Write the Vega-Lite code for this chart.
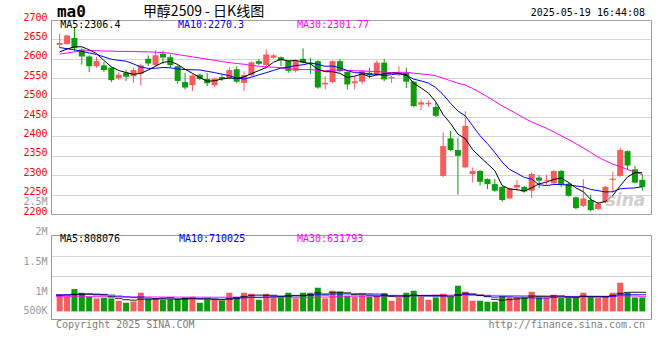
{
"$schema": "https://vega.github.io/schema/vega-lite/v6.json",
"padding": {"left": 22, "top": 3, "right": 4, "bottom": 5},
"background": "white",
"spacing": 21,
"bounds": "flush",
"config": {
  "view": {"stroke": "#999999", "strokeWidth": 1}
},
"datasets": {"k": [
{"d":"2025-01-14","o":2636,"h":2665,"l":2628,"c":2641,"v":666000,"m5":2618,"m10":2629,"m30":2612,"vm5":680000,"vm10":710000,"vm30":630000},
{"d":"2025-01-15","o":2638,"h":2663,"l":2636,"c":2660,"v":623000,"m5":2625,"m10":2626,"m30":2615,"vm5":690000,"vm10":712000,"vm30":628000},
{"d":"2025-01-16","o":2654,"h":2680,"l":2620,"c":2627,"v":949000,"m5":2631,"m10":2623,"m30":2618,"vm5":720000,"vm10":720000,"vm30":632000},
{"d":"2025-01-17","o":2624,"h":2627,"l":2585,"c":2606,"v":793000,"m5":2631,"m10":2619,"m30":2620,"vm5":720000,"vm10":735000,"vm30":635000},
{"d":"2025-01-20","o":2606,"h":2609,"l":2566,"c":2581,"v":623000,"m5":2623.0,"m10":2615,"m30":2621,"vm5":731000,"vm10":740000,"vm30":634000},
{"d":"2025-01-21","o":2581,"h":2605,"l":2577,"c":2594,"v":552000,"m5":2613.6,"m10":2611,"m30":2621,"vm5":708000,"vm10":735000,"vm30":632000},
{"d":"2025-01-22","o":2583,"h":2592,"l":2566,"c":2571,"v":581000,"m5":2595.8,"m10":2605,"m30":2620,"vm5":700000,"vm10":720000,"vm30":630000},
{"d":"2025-01-23","o":2577,"h":2579,"l":2540,"c":2545,"v":552000,"m5":2579.4,"m10":2599,"m30":2620,"vm5":620000,"vm10":690000,"vm30":627000},
{"d":"2025-01-24","o":2550,"h":2565,"l":2546,"c":2559,"v":453000,"m5":2570.0,"m10":2596,"m30":2619,"vm5":552000,"vm10":650000,"vm30":624000},
{"d":"2025-01-27","o":2564,"h":2572,"l":2543,"c":2554,"v":368000,"m5":2564.6,"m10":2593.8,"m30":2619,"vm5":501000,"vm10":616000,"vm30":620000},
{"d":"2025-02-05","o":2555,"h":2577,"l":2538,"c":2571,"v":425000,"m5":2560.0,"m10":2586.8,"m30":2619,"vm5":476000,"vm10":592000,"vm30":616000},
{"d":"2025-02-06","o":2562,"h":2588,"l":2531,"c":2583,"v":793000,"m5":2562.4,"m10":2579.1,"m30":2618,"vm5":518000,"vm10":609000,"vm30":615000},
{"d":"2025-02-07","o":2600,"h":2609,"l":2581,"c":2588,"v":510000,"m5":2571.0,"m10":2575.2,"m30":2618,"vm5":510000,"vm10":565000,"vm30":613000},
{"d":"2025-02-10","o":2584,"h":2622,"l":2580,"c":2609,"v":567000,"m5":2581.0,"m10":2575.5,"m30":2617,"vm5":533000,"vm10":542000,"vm30":612000},
{"d":"2025-02-11","o":2613,"h":2621,"l":2587,"c":2603,"v":496000,"m5":2590.8,"m10":2577.7,"m30":2616,"vm5":558000,"vm10":530000,"vm30":610000},
{"d":"2025-02-12","o":2604,"h":2611,"l":2577,"c":2584,"v":524000,"m5":2593.4,"m10":2576.7,"m30":2614,"vm5":578000,"vm10":527000,"vm30":609000},
{"d":"2025-02-13","o":2581,"h":2583,"l":2536,"c":2543,"v":524000,"m5":2585.4,"m10":2573.9,"m30":2611,"vm5":524000,"vm10":521000,"vm30":607000},
{"d":"2025-02-14","o":2540,"h":2564,"l":2521,"c":2526,"v":595000,"m5":2573.0,"m10":2572.0,"m30":2608,"vm5":541000,"vm10":526000,"vm30":606000},
{"d":"2025-02-17","o":2532,"h":2560,"l":2517,"c":2557,"v":623000,"m5":2562.6,"m10":2571.8,"m30":2605,"vm5":552000,"vm10":543000,"vm30":605000},
{"d":"2025-02-18","o":2559,"h":2562,"l":2545,"c":2548,"v":368000,"m5":2551.6,"m10":2571.2,"m30":2602,"vm5":527000,"vm10":543000,"vm30":603000},
{"d":"2025-02-19","o":2548,"h":2563,"l":2530,"c":2537,"v":510000,"m5":2542.2,"m10":2567.8,"m30":2599,"vm5":524000,"vm10":551000,"vm30":601000},
{"d":"2025-02-20","o":2532,"h":2551,"l":2527,"c":2549,"v":496000,"m5":2543.4,"m10":2564.4,"m30":2596,"vm5":518000,"vm10":521000,"vm30":600000},
{"d":"2025-02-21","o":2553,"h":2560,"l":2543,"c":2548,"v":453000,"m5":2547.8,"m10":2560.4,"m30":2593,"vm5":490000,"vm10":516000,"vm30":598000},
{"d":"2025-02-24","o":2550,"h":2578,"l":2547,"c":2571,"v":793000,"m5":2550.6,"m10":2556.6,"m30":2590,"vm5":524000,"vm10":538000,"vm30":597000},
{"d":"2025-02-25","o":2573,"h":2581,"l":2538,"c":2541,"v":623000,"m5":2549.2,"m10":2550.4,"m30":2588,"vm5":575000,"vm10":551000,"vm30":598000},
{"d":"2025-02-26","o":2538,"h":2568,"l":2517,"c":2558,"v":793000,"m5":2553.4,"m10":2547.8,"m30":2586,"vm5":632000,"vm10":578000,"vm30":599000},
{"d":"2025-02-27","o":2557,"h":2593,"l":2555,"c":2591,"v":751000,"m5":2561.8,"m10":2552.6,"m30":2583,"vm5":683000,"vm10":601000,"vm30":600000},
{"d":"2025-02-28","o":2594,"h":2600,"l":2584,"c":2587,"v":496000,"m5":2569.6,"m10":2558.7,"m30":2581,"vm5":691000,"vm10":591000,"vm30":598000},
{"d":"2025-03-03","o":2584,"h":2624,"l":2582,"c":2611,"v":751000,"m5":2577.6,"m10":2564.1,"m30":2579,"vm5":683000,"vm10":603000,"vm30":597000},
{"d":"2025-03-04","o":2603,"h":2612,"l":2600,"c":2609,"v":623000,"m5":2591.2,"m10":2570.2,"m30":2578.4,"vm5":683000,"vm10":629000,"vm30":596000},
{"d":"2025-03-05","o":2604,"h":2606,"l":2581,"c":2596,"v":595000,"m5":2598.8,"m10":2576.1,"m30":2576.9,"vm5":643000,"vm10":637000,"vm30":593000},
{"d":"2025-03-06","o":2594,"h":2597,"l":2564,"c":2569,"v":793000,"m5":2594.4,"m10":2578.1,"m30":2573.9,"vm5":652000,"vm10":667000,"vm30":599000},
{"d":"2025-03-07","o":2569,"h":2598,"l":2565,"c":2594,"v":552000,"m5":2595.8,"m10":2582.7,"m30":2572.8,"vm5":663000,"vm10":677000,"vm30":586000},
{"d":"2025-03-10","o":2600,"h":2627,"l":2588,"c":2590,"v":793000,"m5":2591.6,"m10":2584.6,"m30":2572.2,"vm5":671000,"vm10":677000,"vm30":586000},
{"d":"2025-03-11","o":2590,"h":2602,"l":2561,"c":2586,"v":793000,"m5":2587.0,"m10":2589.1,"m30":2572.4,"vm5":705000,"vm10":694000,"vm30":592000},
{"d":"2025-03-12","o":2594,"h":2596,"l":2523,"c":2526,"v":1006000,"m5":2573.0,"m10":2585.9,"m30":2570.1,"vm5":787000,"vm10":715000,"vm30":607000},
{"d":"2025-03-13","o":2534,"h":2555,"l":2521,"c":2538,"v":552000,"m5":2566.8,"m10":2580.6,"m30":2569.0,"vm5":739000,"vm10":695000,"vm30":606000},
{"d":"2025-03-14","o":2540,"h":2596,"l":2537,"c":2594,"v":878000,"m5":2566.8,"m10":2581.3,"m30":2570.7,"vm5":804000,"vm10":734000,"vm30":617000},
{"d":"2025-03-17","o":2594,"h":2600,"l":2565,"c":2568,"v":836000,"m5":2562.4,"m10":2577.0,"m30":2571.0,"vm5":813000,"vm10":742000,"vm30":629000},
{"d":"2025-03-18","o":2566,"h":2568,"l":2521,"c":2534,"v":666000,"m5":2552.0,"m10":2569.5,"m30":2570.3,"vm5":788000,"vm10":746000,"vm30":639000},
{"d":"2025-03-19","o":2537,"h":2555,"l":2521,"c":2542,"v":623000,"m5":2555.2,"m10":2564.1,"m30":2569.3,"vm5":711000,"vm10":749000,"vm30":646000},
{"d":"2025-03-20","o":2541,"h":2570,"l":2535,"c":2568,"v":694000,"m5":2561.2,"m10":2564.0,"m30":2568.8,"vm5":739000,"vm10":739000,"vm30":643000},
{"d":"2025-03-21","o":2564,"h":2577,"l":2551,"c":2558,"v":623000,"m5":2554.0,"m10":2560.4,"m30":2567.8,"vm5":688000,"vm10":746000,"vm30":646000},
{"d":"2025-03-24","o":2558,"h":2596,"l":2556,"c":2590,"v":666000,"m5":2558.4,"m10":2560.4,"m30":2567.2,"vm5":654000,"vm10":734000,"vm30":650000},
{"d":"2025-03-25","o":2590,"h":2600,"l":2542,"c":2547,"v":765000,"m5":2561.0,"m10":2556.5,"m30":2565.3,"vm5":674000,"vm10":731000,"vm30":659000},
{"d":"2025-03-26","o":2550,"h":2556,"l":2538,"c":2553,"v":453000,"m5":2563.2,"m10":2559.2,"m30":2564.3,"vm5":640000,"vm10":676000,"vm30":656000},
{"d":"2025-03-27","o":2558,"h":2581,"l":2555,"c":2565,"v":567000,"m5":2562.6,"m10":2561.9,"m30":2565.0,"vm5":615000,"vm10":677000,"vm30":658000},
{"d":"2025-03-28","o":2564,"h":2577,"l":2525,"c":2541,"v":793000,"m5":2559.2,"m10":2556.6,"m30":2565.5,"vm5":649000,"vm10":669000,"vm30":664000},
{"d":"2025-03-31","o":2541,"h":2543,"l":2475,"c":2478,"v":878000,"m5":2536.8,"m10":2547.6,"m30":2562.9,"vm5":691000,"vm10":673000,"vm30":673000},
{"d":"2025-04-01","o":2482,"h":2495,"l":2468,"c":2488,"v":623000,"m5":2525.0,"m10":2543.0,"m30":2560.9,"vm5":663000,"vm10":669000,"vm30":681000},
{"d":"2025-04-02","o":2483,"h":2492,"l":2476,"c":2486,"v":496000,"m5":2511.6,"m10":2537.4,"m30":2559.2,"vm5":671000,"vm10":656000,"vm30":681000},
{"d":"2025-04-03","o":2476,"h":2487,"l":2450,"c":2453,"v":595000,"m5":2489.2,"m10":2525.9,"m30":2556.0,"vm5":677000,"vm10":646000,"vm30":684000},
{"d":"2025-04-07","o":2298,"h":2410,"l":2295,"c":2375,"v":751000,"m5":2456.0,"m10":2507.6,"m30":2550.2,"vm5":669000,"vm10":659000,"vm30":694000},
{"d":"2025-04-08","o":2395,"h":2414,"l":2362,"c":2365,"v":581000,"m5":2433.4,"m10":2485.1,"m30":2543.4,"vm5":609000,"vm10":650000,"vm30":687000},
{"d":"2025-04-09","o":2365,"h":2397,"l":2250,"c":2350,"v":1091000,"m5":2405.8,"m10":2465.4,"m30":2537.0,"vm5":703000,"vm10":683000,"vm30":703000},
{"d":"2025-04-10","o":2320,"h":2465,"l":2318,"c":2427,"v":836000,"m5":2394.0,"m10":2452.8,"m30":2532.6,"vm5":771000,"vm10":721000,"vm30":704000},
{"d":"2025-04-11","o":2303,"h":2320,"l":2281,"c":2311,"v":453000,"m5":2365.6,"m10":2427.4,"m30":2523.3,"vm5":742000,"vm10":710000,"vm30":694000},
{"d":"2025-04-14","o":2311,"h":2313,"l":2273,"c":2283,"v":453000,"m5":2347.2,"m10":2401.6,"m30":2513.2,"vm5":683000,"vm10":676000,"vm30":693000},
{"d":"2025-04-15","o":2290,"h":2292,"l":2264,"c":2277,"v":411000,"m5":2329.6,"m10":2381.5,"m30":2502.0,"vm5":649000,"vm10":629000,"vm30":681000},
{"d":"2025-04-16","o":2277,"h":2290,"l":2257,"c":2260,"v":411000,"m5":2311.6,"m10":2358.7,"m30":2490.4,"vm5":513000,"vm10":608000,"vm30":674000},
{"d":"2025-04-17","o":2270,"h":2272,"l":2232,"c":2236,"v":652000,"m5":2273.4,"m10":2333.7,"m30":2478.4,"vm5":476000,"vm10":623000,"vm30":676000},
{"d":"2025-04-18","o":2240,"h":2268,"l":2238,"c":2266,"v":595000,"m5":2264.4,"m10":2315.0,"m30":2468.3,"vm5":504000,"vm10":623000,"vm30":670000},
{"d":"2025-04-21","o":2268,"h":2288,"l":2260,"c":2275,"v":595000,"m5":2262.8,"m10":2305.0,"m30":2457.7,"vm5":533000,"vm10":608000,"vm30":671000},
{"d":"2025-04-22","o":2270,"h":2272,"l":2255,"c":2258,"v":567000,"m5":2259.0,"m10":2294.3,"m30":2446.6,"vm5":564000,"vm10":606000,"vm30":663000},
{"d":"2025-04-23","o":2260,"h":2307,"l":2241,"c":2303,"v":836000,"m5":2267.6,"m10":2289.6,"m30":2437.2,"vm5":649000,"vm10":581000,"vm30":665000},
{"d":"2025-04-24","o":2294,"h":2300,"l":2267,"c":2286,"v":595000,"m5":2277.6,"m10":2275.5,"m30":2429.2,"vm5":638000,"vm10":557000,"vm30":651000},
{"d":"2025-04-25","o":2286,"h":2301,"l":2275,"c":2288,"v":567000,"m5":2282.0,"m10":2273.2,"m30":2420.8,"vm5":632000,"vm10":568000,"vm30":652000},
{"d":"2025-04-28","o":2279,"h":2313,"l":2277,"c":2311,"v":708000,"m5":2289.2,"m10":2276.0,"m30":2411.4,"vm5":655000,"vm10":594000,"vm30":646000},
{"d":"2025-04-29","o":2311,"h":2313,"l":2270,"c":2275,"v":567000,"m5":2292.6,"m10":2275.8,"m30":2401.6,"vm5":655000,"vm10":609000,"vm30":637000},
{"d":"2025-04-30","o":2278,"h":2281,"l":2245,"c":2247,"v":567000,"m5":2281.4,"m10":2274.5,"m30":2392.1,"vm5":601000,"vm10":625000,"vm30":634000},
{"d":"2025-05-06","o":2243,"h":2245,"l":2212,"c":2215,"v":567000,"m5":2267.2,"m10":2272.4,"m30":2381.2,"vm5":595000,"vm10":616000,"vm30":632000},
{"d":"2025-05-07","o":2221,"h":2290,"l":2218,"c":2240,"v":793000,"m5":2257.6,"m10":2269.8,"m30":2370.2,"vm5":640000,"vm10":636000,"vm30":635000},
{"d":"2025-05-08","o":2236,"h":2250,"l":2206,"c":2210,"v":595000,"m5":2237.4,"m10":2263.3,"m30":2358.6,"vm5":618000,"vm10":636000,"vm30":634000},
{"d":"2025-05-09","o":2213,"h":2230,"l":2210,"c":2227,"v":567000,"m5":2227.8,"m10":2260.2,"m30":2346.5,"vm5":618000,"vm10":636000,"vm30":631000},
{"d":"2025-05-12","o":2230,"h":2272,"l":2228,"c":2270,"v":652000,"m5":2232.4,"m10":2256.9,"m30":2337.3,"vm5":635000,"vm10":618000,"vm30":627000},
{"d":"2025-05-13","o":2288,"h":2309,"l":2255,"c":2291,"v":793000,"m5":2247.6,"m10":2257.4,"m30":2328.6,"vm5":680000,"vm10":638000,"vm30":639000},
{"d":"2025-05-14","o":2298,"h":2371,"l":2296,"c":2365,"v":1218000,"m5":2272.6,"m10":2265.1,"m30":2321.9,"vm5":765000,"vm10":703000,"vm30":660000},
{"d":"2025-05-15","o":2362,"h":2364,"l":2313,"c":2325,"v":793000,"m5":2295.6,"m10":2266.5,"m30":2314.7,"vm5":805000,"vm10":711000,"vm30":660000},
{"d":"2025-05-16","o":2315,"h":2324,"l":2279,"c":2281,"v":595000,"m5":2306.4,"m10":2267.1,"m30":2308.1,"vm5":810000,"vm10":714000,"vm30":651000},
{"d":"2025-05-19","o":2288,"h":2303,"l":2260,"c":2270,"v":595000,"m5":2306.4,"m10":2270.3,"m30":2301.77,"vm5":808076,"vm10":710025,"vm30":631793}
]},
"vconcat": [
{
  "width": 600, "height": 194,
  "data": {"name": "k"},
  "transform": [{"window": [{"op": "row_number", "as": "i"}]}],
  "resolve": {"axis": {"y": "independent"}},
  "encoding": {
    "x": {"field": "i", "type": "quantitative",
      "scale": {"domain": [0.5, 80.5], "nice": false, "zero": false},
      "axis": {"title": null, "values": [0.5, 9.6139, 18.7278, 28.8544, 38.981, 49.1076, 58.2215, 68.3481, 75.4367],
        "labelExpr": "datum.value < 1 ? '01-14' : datum.value < 10 ? '01-27' : datum.value < 19 ? '02-17' : datum.value < 29 ? '03-03' : datum.value < 39 ? '03-17' : datum.value < 50 ? '03-31' : datum.value < 59 ? '04-14' : datum.value < 69 ? '04-28' : '05-12'",
        "labelColor": "#0b77d3", "labelFont": "DejaVu Sans Mono", "labelFontSize": 10, "labelFlush": false, "labelOverlap": false, "labelPadding": 4,
        "ticks": false, "domainColor": "#999999", "grid": true, "gridColor": "#aaaaaa", "gridDash": [1, 1]}}
  },
  "layer": [
    {"mark": {"type": "rule", "strokeWidth": 1},
     "encoding": {
       "y": {"field": "l", "type": "quantitative", "scale": {"domain": [2200, 2700], "nice": false, "zero": false},
         "axis": {"title": null, "values": [2200, 2250, 2300, 2350, 2400, 2450, 2500, 2550, 2600, 2650, 2700], "format": "d",
           "labelColor": "#ff0000", "labelFont": "DejaVu Sans Mono", "labelFontSize": 10, "labelPadding": 4, "labelOffset": -3, "labelOverlap": false,
           "ticks": false, "domainColor": "#999999", "grid": true, "gridColor": "#aaaaaa", "gridDash": [1, 1]}},
       "y2": {"field": "h"},
       "color": {"condition": {"test": "datum.c >= datum.o", "value": "#f65c5c"}, "value": "#0c9c0c"}}},
    {"mark": {"type": "bar", "size": 6},
     "encoding": {
       "y": {"field": "o", "type": "quantitative", "scale": {"domain": [2200, 2700], "nice": false, "zero": false}, "axis": null},
       "y2": {"field": "c"},
       "color": {"condition": {"test": "datum.c >= datum.o", "value": "#f65c5c"}, "value": "#0c9c0c"}}},
    {"mark": {"type": "line", "strokeWidth": 1, "color": "#ff00ff"},
     "encoding": {"y": {"field": "m30", "type": "quantitative", "scale": {"domain": [2200, 2700], "nice": false, "zero": false}, "axis": null}}},
    {"mark": {"type": "line", "strokeWidth": 1, "color": "#0000ff"},
     "encoding": {"y": {"field": "m10", "type": "quantitative", "scale": {"domain": [2200, 2700], "nice": false, "zero": false}, "axis": null}}},
    {"mark": {"type": "line", "strokeWidth": 1, "color": "#000000"},
     "encoding": {"y": {"field": "m5", "type": "quantitative", "scale": {"domain": [2200, 2700], "nice": false, "zero": false}, "axis": null}}},
    {"transform": [{"filter": "datum.i == 1"}],
     "mark": {"type": "text", "align": "left", "baseline": "middle", "color": "#000000", "font": "DejaVu Sans Mono", "fontSize": 10},
     "encoding": {"x": {"datum": 1.07, "type": "quantitative", "axis": null}, "y": {"datum": 2687, "type": "quantitative", "scale": {"domain": [2200, 2700], "nice": false, "zero": false}, "axis": null}, "text": {"value": "MA5:2306.4"}}},
    {"transform": [{"filter": "datum.i == 1"}],
     "mark": {"type": "text", "align": "left", "baseline": "middle", "color": "#0000ff", "font": "DejaVu Sans Mono", "fontSize": 10},
     "encoding": {"x": {"datum": 17.03, "type": "quantitative", "axis": null}, "y": {"datum": 2687, "type": "quantitative", "scale": {"domain": [2200, 2700], "nice": false, "zero": false}, "axis": null}, "text": {"value": "MA10:2270.3"}}},
    {"transform": [{"filter": "datum.i == 1"}],
     "mark": {"type": "text", "align": "left", "baseline": "middle", "color": "#ff00ff", "font": "DejaVu Sans Mono", "fontSize": 10},
     "encoding": {"x": {"datum": 33.17, "type": "quantitative", "axis": null}, "y": {"datum": 2687, "type": "quantitative", "scale": {"domain": [2200, 2700], "nice": false, "zero": false}, "axis": null}, "text": {"value": "MA30:2301.77"}}},
    {"transform": [{"filter": "datum.i == 1"}],
     "mark": {"type": "text", "align": "center", "baseline": "middle", "color": "#000000", "font": "Noto Sans CJK SC", "fontSize": 14},
     "encoding": {"x": {"datum": 20.5, "type": "quantitative", "axis": null}, "y": {"datum": 2720.6, "type": "quantitative", "scale": {"domain": [2200, 2700], "nice": false, "zero": false}, "axis": null}, "text": {"value": "甲醇2509 - 日K线图"}}},
    {"transform": [{"filter": "datum.i == 1"}],
     "mark": {"type": "text", "align": "left", "baseline": "middle", "color": "#000000", "font": "DejaVu Sans Mono", "fontSize": 16, "fontWeight": "bold"},
     "encoding": {"x": {"datum": 0.63, "type": "quantitative", "axis": null}, "y": {"datum": 2721.9, "type": "quantitative", "scale": {"domain": [2200, 2700], "nice": false, "zero": false}, "axis": null}, "text": {"value": "ma0"}}},
    {"transform": [{"filter": "datum.i == 1"}],
     "mark": {"type": "text", "align": "right", "baseline": "middle", "color": "#000000", "font": "DejaVu Sans Mono", "fontSize": 10},
     "encoding": {"x": {"datum": 80.37, "type": "quantitative", "axis": null}, "y": {"datum": 2718.8, "type": "quantitative", "scale": {"domain": [2200, 2700], "nice": false, "zero": false}, "axis": null}, "text": {"value": "2025-05-19 16:44:08"}}},
    {"transform": [{"filter": "datum.i == 1"}],
     "mark": {"type": "text", "align": "right", "baseline": "middle", "color": "#c4c4c4", "font": "DejaVu Sans", "fontSize": 17, "fontStyle": "italic", "fontWeight": "bold", "opacity": 0.8},
     "encoding": {"x": {"datum": 80.4, "type": "quantitative", "axis": null}, "y": {"datum": 2233, "type": "quantitative", "scale": {"domain": [2200, 2700], "nice": false, "zero": false}, "axis": null}, "text": {"value": "sina"}}}
  ]
},
{
  "width": 600, "height": 84,
  "data": {"name": "k"},
  "transform": [{"window": [{"op": "row_number", "as": "i"}]}],
  "resolve": {"axis": {"y": "independent"}},
  "encoding": {
    "x": {"field": "i", "type": "quantitative",
      "scale": {"domain": [0.5, 80.5], "nice": false, "zero": false},
      "axis": {"title": null, "values": [0.5, 9.6139, 18.7278, 28.8544, 38.981, 49.1076, 58.2215, 68.3481, 75.4367], "labels": false,
        "ticks": false, "domainColor": "#999999", "grid": true, "gridColor": "#aaaaaa", "gridDash": [1, 1]}}
  },
  "layer": [
    {"mark": {"type": "bar", "size": 6},
     "encoding": {
       "y": {"field": "v", "type": "quantitative", "scale": {"domain": [-323000, 3247000], "nice": false, "zero": false},
         "axis": {"title": null, "values": [3240000, 3230000, 2367000, 2125000, 1517000, 850000, 29750],
           "labelExpr": "datum.value == 3240000 ? '2M' : datum.value == 3230000 ? '2.5M' : datum.value == 2125000 ? '1.5M' : datum.value == 850000 ? '1M' : datum.value == 29750 ? '500K' : ''",
           "labelColor": "#999999", "labelFont": "DejaVu Sans Mono", "labelFontSize": 10, "labelPadding": 4, "labelOverlap": false,
           "ticks": false, "domainColor": "#999999", "grid": true, "gridColor": "#aaaaaa", "gridDash": [1, 1],
           "gridOpacity": {"condition": {"test": "datum.value == 2367000 || datum.value == 1517000", "value": 1}, "value": 0},
           "labelOffset": {"condition": [{"test": "datum.value == 3240000", "value": -3.5}, {"test": "datum.value == 3230000", "value": -34.4}], "value": 0}}},
       "color": {"condition": {"test": "datum.c >= datum.o", "value": "#f65c5c"}, "value": "#0c9c0c"}}},
    {"mark": {"type": "tick", "orient": "horizontal", "size": 7.5, "thickness": 1.3, "color": "#ff00ff"},
     "encoding": {"y": {"field": "vm30", "type": "quantitative", "scale": {"domain": [-323000, 3247000], "nice": false, "zero": false}, "axis": null}}},
    {"mark": {"type": "tick", "orient": "horizontal", "size": 7.5, "thickness": 1.3, "color": "#0000ff"},
     "encoding": {"y": {"field": "vm10", "type": "quantitative", "scale": {"domain": [-323000, 3247000], "nice": false, "zero": false}, "axis": null}}},
    {"mark": {"type": "tick", "orient": "horizontal", "size": 7.5, "thickness": 1.3, "color": "#000000"},
     "encoding": {"y": {"field": "vm5", "type": "quantitative", "scale": {"domain": [-323000, 3247000], "nice": false, "zero": false}, "axis": null}}},
    {"transform": [{"filter": "datum.i == 1"}],
     "mark": {"type": "text", "align": "left", "baseline": "middle", "color": "#000000", "font": "DejaVu Sans Mono", "fontSize": 10},
     "encoding": {"x": {"datum": 1.03, "type": "quantitative", "axis": null}, "y": {"datum": 3064000, "type": "quantitative", "scale": {"domain": [-323000, 3247000], "nice": false, "zero": false}, "axis": null}, "text": {"value": "MA5:808076"}}},
    {"transform": [{"filter": "datum.i == 1"}],
     "mark": {"type": "text", "align": "left", "baseline": "middle", "color": "#0000ff", "font": "DejaVu Sans Mono", "fontSize": 10},
     "encoding": {"x": {"datum": 17.17, "type": "quantitative", "axis": null}, "y": {"datum": 3064000, "type": "quantitative", "scale": {"domain": [-323000, 3247000], "nice": false, "zero": false}, "axis": null}, "text": {"value": "MA10:710025"}}},
    {"transform": [{"filter": "datum.i == 1"}],
     "mark": {"type": "text", "align": "left", "baseline": "middle", "color": "#ff00ff", "font": "DejaVu Sans Mono", "fontSize": 10},
     "encoding": {"x": {"datum": 33.17, "type": "quantitative", "axis": null}, "y": {"datum": 3064000, "type": "quantitative", "scale": {"domain": [-323000, 3247000], "nice": false, "zero": false}, "axis": null}, "text": {"value": "MA30:631793"}}},
    {"transform": [{"filter": "datum.i == 1"}],
     "mark": {"type": "text", "align": "left", "baseline": "middle", "color": "#808080", "font": "DejaVu Sans Mono", "fontSize": 10},
     "encoding": {"x": {"datum": 0.5, "type": "quantitative", "axis": null}, "y": {"datum": -578000, "type": "quantitative", "scale": {"domain": [-323000, 3247000], "nice": false, "zero": false}, "axis": null}, "text": {"value": "Copyright 2025 SINA.COM"}}},
    {"transform": [{"filter": "datum.i == 1"}],
     "mark": {"type": "text", "align": "right", "baseline": "middle", "color": "#808080", "font": "DejaVu Sans Mono", "fontSize": 10},
     "encoding": {"x": {"datum": 80.37, "type": "quantitative", "axis": null}, "y": {"datum": -578000, "type": "quantitative", "scale": {"domain": [-323000, 3247000], "nice": false, "zero": false}, "axis": null}, "text": {"value": "http://finance.sina.com.cn"}}}
  ]
}
]
}
